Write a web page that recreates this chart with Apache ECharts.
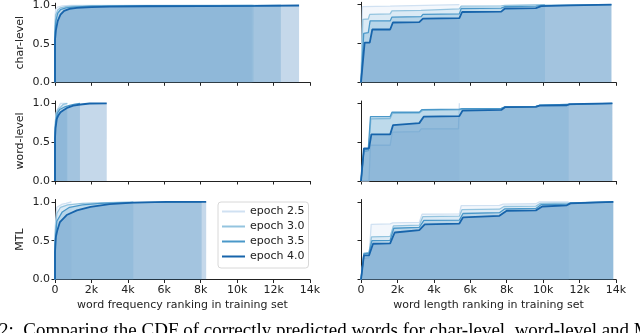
<!DOCTYPE html>
<html><head><meta charset="utf-8">
<script src="https://cdn.jsdelivr.net/npm/echarts@6/dist/echarts.min.js"></script>
<style>html,body{margin:0;padding:0;background:#fff}#c{width:640px;height:333px}</style>
</head><body><div id="c"></div>
<script>
const epochs = ['epoch 2.5', 'epoch 3.0', 'epoch 3.5', 'epoch 4.0'];
const colors = ['#d0e1f2', '#94c4df', '#4a98c9', '#1764ab'];
const rowNames = ['char-level', 'word-level', 'MTL'];
const xNames = ['word frequency ranking in training set', 'word length ranking in training set'];
const xTicks = [0, 2000, 4000, 6000, 8000, 10000, 12000, 14000];
const yTicks = [0, 0.5, 1];

// char-level, frequency ranking
const charFreq25 = [[0,0],[0,0.85],[40,0.95],[150,0.98],[400,0.995],[900,1.0],[10800,1.0]];
const charFreq30 = [[0,0],[0,0.75],[50,0.88],[150,0.94],[300,0.97],[600,0.985],[1000,0.99],[3000,0.997],[10900,1.0]];
const charFreq35 = [[0,0],[0,0.65],[50,0.8],[150,0.9],[300,0.945],[600,0.97],[1000,0.98],[2000,0.99],[5000,0.995],[12400,1.0]];
const charFreq40 = [[0,0],[0,0.55],[50,0.68],[150,0.8],[300,0.88],[500,0.93],[800,0.955],[1200,0.97],[2000,0.98],[3000,0.985],[5000,0.99],[8000,0.993],[11000,0.996],[13400,1.0]];
// char-level, length ranking
const charLen25 = [[0,0],[80,0.975],[1600,0.98],[1700,0.99],[5400,1.0]];
const charLen30 = [[0,0],[100,0.81],[400,0.815],[480,0.875],[1600,0.88],[1700,0.92],[3300,0.925],[3400,0.94],[5400,0.945],[5500,0.98],[7700,0.985],[7900,0.99],[10100,1.0]];
const charLen35 = [[0,0],[150,0.63],[400,0.64],[500,0.79],[1600,0.79],[1700,0.84],[3300,0.845],[3400,0.875],[5400,0.88],[5500,0.95],[7700,0.955],[7900,0.975],[9600,0.98],[9900,0.99],[13750,1.0]];
const charLen40 = [[0,0],[200,0.51],[480,0.51],[620,0.68],[1600,0.68],[1750,0.77],[3200,0.775],[3400,0.82],[5400,0.825],[5550,0.905],[7700,0.91],[7900,0.95],[9600,0.955],[9900,0.98],[11500,0.99],[13750,1.0]];
// word-level, frequency ranking
const wordFreq25 = [[0,0],[0,0.7],[60,0.88],[150,0.93],[220,0.96],[300,1.0],[640,1.0]];
const wordFreq30 = [[0,0],[0,0.68],[50,0.85],[150,0.92],[300,0.95],[450,0.985],[680,1.0]];
const wordFreq35 = [[0,0],[0,0.62],[40,0.76],[120,0.87],[250,0.92],[500,0.95],[800,0.975],[1100,0.99],[1370,1.0]];
const wordFreq40 = [[0,0],[0,0.55],[30,0.68],[100,0.8],[180,0.845],[300,0.885],[460,0.91],[700,0.945],[1000,0.97],[1400,0.985],[1900,0.998],[2840,1.0]];
// word-level, length ranking
const wordLen25 = [[0,0],[440,0],[520,0.46],[1600,0.46],[1720,0.63],[3200,0.635],[3300,0.67],[5350,0.67],[5400,1.0]];
const wordLen30 = [[0,0],[160,0.38],[420,0.39],[540,0.8],[1600,0.805],[1720,0.87],[3200,0.875],[3400,0.91],[5400,0.915],[5550,0.925],[7700,0.93],[7900,0.955],[9600,0.96],[9800,0.975],[11400,0.985]];
const wordLen35 = [[0,0],[160,0.4],[400,0.41],[520,0.83],[1600,0.83],[1700,0.885],[3200,0.885],[3350,0.92],[5400,0.925],[5550,0.93],[7700,0.935],[7900,0.955],[9600,0.96],[9800,0.975],[11400,0.985],[13800,1.0]];
const wordLen40 = [[0,0],[160,0.42],[440,0.42],[570,0.6],[1600,0.6],[1760,0.72],[3200,0.745],[3450,0.83],[5400,0.835],[5570,0.905],[7700,0.915],[7900,0.95],[9600,0.955],[9800,0.97],[11300,0.975],[11450,0.99],[13800,1.0]];
// MTL, frequency ranking
const mtlFreq25 = [[0,0],[0,0.65],[100,0.93],[400,0.97],[600,0.98],[900,1.0]];
const mtlFreq30 = [[0,0],[0,0.55],[100,0.85],[300,0.93],[700,0.96],[1500,0.98],[4300,1.0]];
const mtlFreq35 = [[0,0],[0,0.45],[100,0.75],[400,0.87],[800,0.93],[1500,0.96],[2500,0.98],[4000,0.99],[8050,1.0]];
const mtlFreq40 = [[0,0],[0,0.35],[50,0.55],[130,0.635],[270,0.74],[640,0.83],[1200,0.89],[1950,0.935],[3000,0.97],[4300,0.99],[6100,1.0],[8300,1.0]];
// MTL, length ranking
const mtlLen25 = [[0,0],[140,0.27],[440,0.28],[560,0.71],[1600,0.715],[1750,0.73],[3200,0.735],[3350,0.84],[5400,0.845],[5500,0.95],[7600,0.955],[7800,0.97],[9600,0.975],[9800,1.0],[11400,1.0]];
const mtlLen30 = [[0,0],[160,0.34],[440,0.35],[580,0.55],[1600,0.555],[1780,0.69],[3200,0.7],[3400,0.81],[5400,0.815],[5550,0.9],[7600,0.905],[7850,0.94],[9600,0.945],[9850,0.98],[11400,0.985],[13850,1.0]];
const mtlLen35 = [[0,0],[160,0.33],[440,0.34],[600,0.5],[1600,0.505],[1800,0.66],[3200,0.67],[3450,0.76],[5400,0.765],[5600,0.85],[7600,0.86],[7900,0.91],[9600,0.915],[9900,0.965],[11350,0.97],[11500,0.985],[13850,1.0]];
const mtlLen40 = [[0,0],[160,0.31],[440,0.31],[660,0.46],[1600,0.465],[1850,0.605],[3200,0.635],[3500,0.71],[5400,0.72],[5600,0.8],[7600,0.82],[8000,0.885],[9600,0.89],[9950,0.94],[11300,0.955],[11500,0.98],[13850,1.0]];

const caption = '2:  Comparing the CDF of correctly predicted words for char-level, word-level and MTL';

const panels = [
  [charFreq25, charFreq30, charFreq35, charFreq40],
  [charLen25, charLen30, charLen35, charLen40],
  [wordFreq25, wordFreq30, wordFreq35, wordFreq40],
  [wordLen25, wordLen30, wordLen35, wordLen40],
  [mtlFreq25, mtlFreq30, mtlFreq35, mtlFreq40],
  [mtlLen25, mtlLen30, mtlLen35, mtlLen40]
];

const FONT = 'DejaVu Sans';
const rowTops = [2.3, 101, 199.5];
const colLefts = [55, 361];
const grids = [], xAxes = [], yAxes = [], series = [];
const axisLineStyle = { color: '#222', width: 1 };
for (let p = 0; p < 6; p++) {
  const r = Math.floor(p / 2), c = p % 2;
  grids.push({ left: colLefts[c], top: rowTops[r], width: 255, height: 80 });
  xAxes.push({
    type: 'value', gridIndex: p, min: 0, max: 14000,
    name: r === 2 ? xNames[c] : '', nameLocation: 'middle', nameGap: 20,
    nameTextStyle: { fontFamily: FONT, fontSize: 11, color: '#222' },
    axisLine: { show: true, lineStyle: axisLineStyle },
    axisTick: { show: true, length: 3.5, lineStyle: axisLineStyle, customValues: xTicks },
    axisLabel: { show: r === 2, customValues: xTicks, margin: 5, fontFamily: FONT, fontSize: 11, color: '#222',
      formatter: v => v === 0 ? '0' : (v / 1000) + 'k' },
    splitLine: { show: false }
  });
  yAxes.push({
    type: 'value', gridIndex: p, min: 0, max: 1.03,
    name: c === 0 ? rowNames[r] : '', nameLocation: 'middle', nameGap: 29, nameRotate: 90,
    nameTextStyle: { fontFamily: FONT, fontSize: 11, color: '#222' },
    axisLine: { show: true, lineStyle: axisLineStyle },
    axisTick: { show: true, length: 3.5, lineStyle: axisLineStyle, customValues: yTicks },
    axisLabel: { show: c === 0, customValues: yTicks, margin: 5, fontFamily: FONT, fontSize: 11, color: '#222',
      formatter: v => v.toFixed(1) },
    splitLine: { show: false }
  });
  for (let k = 0; k < 4; k++) {
    series.push({
      type: 'line', name: epochs[k], xAxisIndex: p, yAxisIndex: p,
      data: panels[p][k], symbol: 'none', showSymbol: false, smooth: false,
      color: colors[k],
      lineStyle: { color: colors[k], width: k === 3 ? 1.8 : 1.3 },
      areaStyle: { color: colors[k], opacity: 0.25 },
      z: 2 + k, silent: true, animation: false
    });
  }
}

const chart = echarts.init(document.getElementById('c'), null, { renderer: 'canvas' });
chart.setOption({
  animation: false,
  backgroundColor: '#fff',
  grid: grids, xAxis: xAxes, yAxis: yAxes, series: series,
  legend: {
    orient: 'vertical', left: 218, top: 202,
    padding: [3, 4, 5, 4], itemGap: 2, itemWidth: 23, itemHeight: 2,
    backgroundColor: 'rgba(255,255,255,0.85)', borderColor: '#d8d8d8', borderWidth: 1, borderRadius: 3,
    textStyle: { fontFamily: FONT, fontSize: 11, color: '#222', lineHeight: 13 },
    data: epochs.map((n, k) => ({ name: n, icon: 'rect', itemStyle: { color: colors[k] } })),
    selectedMode: false
  },
  graphic: [{
    type: 'text', left: -1, top: 322,
    style: { text: caption, font: '19px "Liberation Serif"', fill: '#000' }
  }]
});
</script></body></html>
